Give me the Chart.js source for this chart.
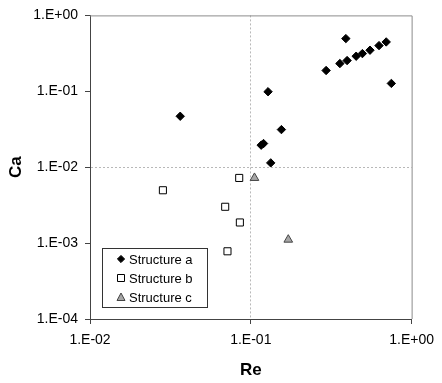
<!DOCTYPE html>
<html>
<head>
<meta charset="utf-8">
<script src="https://cdn.jsdelivr.net/npm/chart.js@4"></script>
<style>
  html, body { margin: 0; padding: 0; background: #fff; }
  #myChart { display: block; }
</style>
</head>
<body>
<canvas id="myChart" width="442" height="383"></canvas>
<script>
// values (Re, Ca)
var aRe = [0.0364, 0.128, 0.116, 0.120, 0.155, 0.133, 0.294, 0.390, 0.358, 0.397, 0.452, 0.494, 0.551, 0.627, 0.695, 0.748];
var aCa = [0.0469, 0.0987, 0.0195, 0.0205, 0.0313, 0.0114, 0.188, 0.495, 0.232, 0.254, 0.290, 0.314, 0.348, 0.400, 0.447, 0.127];
var bRe = [0.0847, 0.0284, 0.0693, 0.0855, 0.0716];
var bCa = [0.00722, 0.00497, 0.00301, 0.00187, 0.00078];
var cRe = [0.1054, 0.171];
var cCa = [0.00722, 0.00111];

var seriesNames = ["Structure a", "Structure b", "Structure c"];
var xTicks = [0.01, 0.1, 1];
var yTicks = [0.0001, 0.001, 0.01, 0.1, 1];
var xGridAt = 0.1;
var yGridAt = 0.01;

var FONT = "'Liberation Sans', Arial, sans-serif";

function toPoints(xs, ys) {
  return xs.map(function (x, i) { return { x: x, y: ys[i] }; });
}

// excel style "1.E-02"
function excelExp(v) {
  var e = Math.round(Math.log10(v));
  var s = e < 0 ? "-" : "+";
  var n = Math.abs(e);
  return "1.E" + s + (n < 10 ? "0" + n : n);
}

function near(a, b) { return Math.abs(Math.log10(a) - Math.log10(b)) < 1e-6; }

var framePlugin = {
  id: "frame",
  beforeDatasetsDraw(chart) {
    var a = chart.chartArea, ctx = chart.ctx;
    ctx.save();
    ctx.strokeStyle = "#8c8c8c";
    ctx.lineWidth = 1;
    ctx.beginPath();
    ctx.moveTo(a.left, a.top + 0.5);
    ctx.lineTo(a.right + 0.5, a.top + 0.5);
    ctx.lineTo(a.right + 0.5, a.bottom);
    ctx.stroke();
    ctx.restore();
  }
};

// legend box inside the plot (bottom left)
var boxLegend = {
  id: "boxLegend",
  afterDraw(chart) {
    var ctx = chart.ctx;
    var bx = 102, by = 248, bw = 105, bh = 59;
    ctx.save();
    ctx.fillStyle = "#fff";
    ctx.fillRect(bx, by, bw, bh);
    ctx.strokeStyle = "#333";
    ctx.lineWidth = 1;
    ctx.strokeRect(bx + 0.5, by + 0.5, bw, bh);
    ctx.font = "13px " + FONT;
    ctx.textBaseline = "middle";
    chart.data.datasets.forEach(function (ds, i) {
      var y = by + 11 + i * 19;
      ctx.fillStyle = ds.pointBackgroundColor;
      ctx.strokeStyle = ds.pointBorderColor;
      ctx.lineWidth = 1;
      ctx.beginPath();
      if (ds.pointStyle === "rectRot") {
        var r = 3.6;
        ctx.moveTo(121, y - r); ctx.lineTo(121 + r, y); ctx.lineTo(121, y + r); ctx.lineTo(121 - r, y); ctx.closePath();
      } else if (ds.pointStyle === "rect") {
        ctx.rect(117.5, y - 3.5, 7, 7);
      } else {
        ctx.moveTo(121, y - 4); ctx.lineTo(125, y + 3.5); ctx.lineTo(117, y + 3.5); ctx.closePath();
      }
      ctx.fill();
      ctx.stroke();
      ctx.fillStyle = "#000";
      ctx.fillText(ds.label, 129, y + 1);
    });
    ctx.restore();
  }
};

new Chart("myChart", {
  type: "scatter",
  data: {
    datasets: [{
      label: seriesNames[0],
      data: toPoints(aRe, aCa),
      pointStyle: "rectRot",
      pointRadius: 4.2,
      pointBackgroundColor: "#000",
      pointBorderColor: "#000",
      pointBorderWidth: 1
    }, {
      label: seriesNames[1],
      data: toPoints(bRe, bCa),
      pointStyle: "rect",
      pointRadius: 5,
      pointBackgroundColor: "#fff",
      pointBorderColor: "#000",
      pointBorderWidth: 1
    }, {
      label: seriesNames[2],
      data: toPoints(cRe, cCa),
      pointStyle: "triangle",
      pointRadius: 5,
      pointBackgroundColor: "#a6a6a6",
      pointBorderColor: "#444",
      pointBorderWidth: 1
    }]
  },
  options: {
    responsive: false,
    animation: false,
    layout: { padding: { left: 0, top: 14, right: 23, bottom: 0 } },
    plugins: {
      legend: { display: false },
      tooltip: { enabled: false }
    },
    scales: {
      x: {
        type: "logarithmic",
        min: 0.01,
        max: 1,
        afterBuildTicks: function (s) { s.ticks = xTicks.map(function (v) { return { value: v }; }); },
        afterFit: function (s) { s.height = 64; },
        ticks: {
          callback: function (v) { return excelExp(v); },
          color: "#000",
          font: { family: FONT, size: 14 },
          padding: 8,
          maxRotation: 0
        },
        grid: {
          color: function (c) { return c.tick && near(c.tick.value, xGridAt) ? "#b8b8b8" : "rgba(0,0,0,0)"; },
          tickBorderDash: [],
          tickColor: "#444",
          tickLength: 5
        },
        border: { color: "#444", width: 1, dash: [2, 2] },
        title: {
          display: true,
          text: "Re",
          color: "#000",
          font: { family: FONT, size: 17, weight: "bold" },
          padding: { top: 0, bottom: 2 }
        }
      },
      y: {
        type: "logarithmic",
        min: 0.0001,
        max: 1,
        afterBuildTicks: function (s) { s.ticks = yTicks.map(function (v) { return { value: v }; }); },
        afterFit: function (s) { s.width = 90; },
        ticks: {
          callback: function (v) { return excelExp(v); },
          color: "#000",
          font: { family: FONT, size: 14 },
          padding: 7
        },
        grid: {
          color: function (c) { return c.tick && near(c.tick.value, yGridAt) ? "#b8b8b8" : "rgba(0,0,0,0)"; },
          tickBorderDash: [],
          tickColor: "#444",
          tickLength: 5
        },
        border: { color: "#444", width: 1, dash: [2, 2] },
        title: {
          display: true,
          text: "Ca",
          color: "#000",
          font: { family: FONT, size: 17, weight: "bold" },
          padding: { top: 6, bottom: 0 }
        }
      }
    }
  },
  plugins: [framePlugin, boxLegend]
});
</script>
</body>
</html>
